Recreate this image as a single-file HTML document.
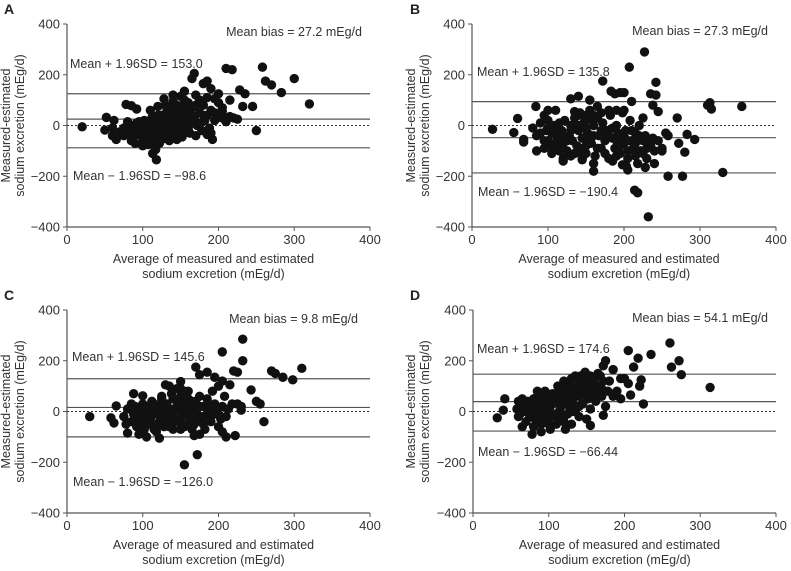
<!DOCTYPE html>
<html><head><meta charset="utf-8">
<style>
body{margin:0;background:#fff;}
svg{display:block;font-family:"Liberation Sans",Arial,sans-serif;}
</style></head>
<body>
<svg id="chart" width="791" height="571" viewBox="0 0 791 571"></svg>
<script>
// ---- data ----
const xTicks = [0,100,200,300,400];
const yTicks = [400,200,0,-200,-400];
const panelLetters = ["A","B","C","D"];
const biasTexts = ["Mean bias = 27.2 mEg/d","Mean bias = 27.3 mEg/d","Mean bias = 9.8 mEg/d","Mean bias = 54.1 mEg/d"];
const upperTexts = ["Mean + 1.96SD = 153.0","Mean + 1.96SD = 135.8","Mean + 1.96SD = 145.6","Mean + 1.96SD = 174.6"];
const lowerTexts = ["Mean − 1.96SD = −98.6","Mean − 1.96SD = −190.4","Mean − 1.96SD = −126.0","Mean − 1.96SD = −66.44"];
const upperLines = [125,94,129,147];
const meanLines = [25,-48,16,39];
const lowerLines = [-88,-187,-100,-77];
const pointsA = [[20,-5],[52,32],[50,-18],[60,-40],[65,-55],[62,20],[78,83],[85,78],[92,65],[100,-75],[110,60],[113,-110],[118,-135],[115,-80],[128,105],[155,135],[165,185],[168,205],[180,165],[185,175],[190,145],[200,125],[205,70],[210,225],[218,220],[215,100],[228,140],[235,125],[245,75],[225,25],[232,75],[250,-20],[258,230],[262,175],[270,160],[283,130],[300,185],[320,85],[192,-55],[185,110],[195,105],[175,95],
[75,-10],[80,-30],[85,0],[88,-45],[90,-20],[92,10],[95,-35],[98,-5],[100,-50],[102,20],[105,-25],[108,0],[110,-60],[112,30],[115,-40],[118,-10],[120,15],[122,-70],[125,40],[128,-20],[130,5],[132,60],[135,-30],[138,25],[140,50],[142,-10],[145,80],[147,10],[150,40],[152,-45],[155,100],[157,60],[160,20],[162,-30],[165,70],[168,30],[170,120],[172,0],[175,50],[178,-20],[180,80],[182,20],[185,40],[188,-10],[190,60],[195,20],[198,30],[200,90],[205,30],[210,15],[215,35],[220,30],[90,-70],[100,-80],[107,-75],[117,-95],[125,-55],[135,-60],[145,-55],[150,115],[160,90],[170,-40],[176,10],[185,-35],[140,95],[130,80],[120,75],[110,-15],[95,15],[85,-60],[150,0],[160,-10],[145,30],[135,10],[125,0],[115,5],[105,-10],[100,5],[75,-40],[70,-25],[140,120],[155,60],[165,40],[175,100],[190,-30],[60,-10],[80,15],
[95,-20],[105,-45],[115,-55],[125,-30],[135,-15],[145,-20],[155,20],[165,10],[160,50],[150,70],[140,70],[130,40],[120,40],[110,10],[100,-30],[90,-5],[82,-15],[170,80],[180,40],[195,50],[205,55],[120,-30],[130,-40],[140,-35],[150,-25],[160,-20],[100,-15],[108,-35],[112,-20],[125,20],[135,40],[145,50],[155,40]];
const pointsB = [[27,-15],[55,-28],[60,28],[68,-55],[68,-65],[84,75],[85,-100],[95,40],[100,60],[110,60],[115,-40],[120,-140],[130,105],[135,55],[140,115],[145,-135],[155,100],[160,-180],[165,75],[172,175],[183,135],[188,125],[195,130],[200,130],[207,230],[203,-160],[205,-175],[210,95],[214,-255],[218,-265],[225,30],[227,290],[228,-165],[232,-360],[235,125],[238,80],[240,-150],[242,170],[242,120],[245,55],[240,-100],[258,-200],[258,-40],[270,30],[272,-70],[277,-200],[280,-105],[283,-35],[293,-55],[310,80],[313,90],[315,65],[330,-185],[355,75],[190,-120],[198,-155],[215,-120],[230,-90],[250,-90],
[80,-10],[85,-40],[90,10],[95,-60],[98,-20],[100,20],[103,-80],[105,-30],[108,0],[110,-90],[112,-50],[115,10],[118,-20],[120,-70],[122,20],[125,-100],[128,-40],[130,0],[132,-60],[135,30],[138,-80],[140,-20],[142,50],[145,-50],[147,10],[150,-110],[150,40],[152,-30],[155,60],[157,-70],[160,0],[162,-120],[165,30],[167,-40],[170,-90],[172,10],[175,-60],[178,-20],[180,-130],[182,40],[185,-50],[188,-90],[190,0],[192,-30],[195,-110],[198,50],[200,-70],[202,-20],[205,-130],[208,20],[210,-60],[212,-90],[215,-30],[218,-150],[220,0],[222,-100],[225,-60],[228,-40],[230,-130],[235,-80],[238,-50],[245,-60],[250,-100],[255,-30],[160,-150],[145,-130],[130,-120],[120,-130],[110,-70],[100,-60],[90,-30],[170,50],[180,60],[190,60],[200,60],[140,-100],[150,-80],[160,-40],[175,-110],[185,-140],[195,-80],[205,-100],
[100,-10],[110,-30],[120,-40],[130,-20],[140,0],[150,-10],[160,20],[170,-20],[180,-40],[190,-60],[200,-40],[210,-20],[220,-40],[230,-60],[115,-100],[125,-60],[135,-110],[145,-90],[155,-60],[165,-90],[175,-30],[185,-10],[195,-40],[205,-60],[215,-70],[225,-110],[150,20],[160,40],[140,40],[105,-110],[95,-90]];
const pointsC = [[30,-20],[58,-25],[62,-45],[65,22],[80,-85],[88,70],[95,-90],[100,62],[105,-100],[122,-105],[130,105],[150,118],[155,-210],[172,-170],[170,175],[175,145],[185,155],[195,135],[205,235],[205,120],[215,105],[220,160],[225,155],[232,200],[232,285],[222,-95],[210,-100],[243,85],[250,40],[255,30],[260,-40],[270,160],[275,150],[285,135],[298,125],[310,170],[168,-95],[175,-90],[200,-60],[205,-80],[230,5],
[75,-20],[80,10],[85,-40],[88,-10],[90,20],[92,-60],[95,0],[98,-30],[100,30],[102,-70],[105,-20],[108,10],[110,-50],[112,40],[115,-10],[118,-80],[120,20],[122,-40],[125,50],[128,-60],[130,0],[132,30],[135,-30],[138,70],[140,-70],[142,10],[145,40],[147,-40],[150,60],[152,-10],[155,-60],[157,20],[160,80],[162,-30],[165,10],[168,-50],[170,40],[172,-10],[175,60],[178,-40],[180,20],[182,-70],[185,50],[188,0],[190,-40],[192,80],[195,30],[198,-10],[200,100],[203,-30],[205,20],[208,60],[210,-20],[213,10],[218,30],[225,30],[230,20],[100,-10],[110,0],[120,-10],[130,-20],[140,-10],[150,10],[160,-10],[170,0],[180,-20],[145,90],[155,80],[135,100],[125,60],[85,30],[78,-50],
[90,-30],[100,-40],[110,-30],[120,-50],[130,-40],[140,-40],[150,-30],[160,-50],[170,-30],[180,-50],[190,-20],[200,-10],[95,10],[105,20],[115,30],[125,20],[135,10],[145,20],[155,30],[165,40],[175,20],[185,10],[195,0],[115,-70],[135,-60],[150,-70],[165,-70],[185,30],[140,50],[150,90],[160,50]];
const pointsD = [[32,-25],[40,5],[42,50],[65,-60],[78,-90],[90,-80],[102,-70],[110,-50],[122,-70],[130,-50],[155,-55],[172,-15],[148,155],[175,200],[172,180],[185,165],[205,240],[208,65],[212,175],[218,210],[220,100],[222,125],[225,30],[235,225],[260,270],[262,175],[272,200],[275,145],[313,95],[195,130],[200,130],[205,110],
[58,10],[60,40],[62,-10],[65,20],[68,30],[70,0],[72,40],[75,-20],[78,10],[80,50],[82,-30],[85,20],[88,60],[90,-10],[92,30],[95,0],[98,50],[100,-30],[102,20],[105,70],[108,-10],[110,40],[112,100],[115,10],[118,60],[120,-20],[122,30],[125,80],[128,10],[130,130],[132,50],[135,20],[138,100],[140,60],[142,140],[145,30],[148,90],[150,120],[152,50],[155,10],[158,80],[160,130],[162,40],[165,100],[168,140],[170,60],[172,120],[175,20],[178,80],[180,120],[185,60],[190,80],[195,50],[70,-40],[80,-60],[90,-50],[100,-50],[110,-20],[120,-40],[130,0],[140,-20],[150,-30],[60,-20],[65,50],[85,80],[95,80],[105,30],[115,90],[125,110],[135,140],[145,100],[155,140],[165,150],[115,40],[125,50],[135,60],[145,70],
[70,20],[75,30],[85,0],[90,40],[95,20],[100,10],[105,50],[110,70],[115,60],[120,80],[125,30],[130,70],[135,90],[140,110],[145,130],[150,90],[155,100],[160,110],[165,70],[170,90],[80,30],[85,-20],[95,-30],[105,-10],[115,-20],[125,-10],[135,0],[140,20],[65,0],[75,0],[130,100],[120,120],[150,60],[160,60]];
const allPoints = [pointsA, pointsB, pointsC, pointsD];

// ---- layout (pixels) ----
const frames = [
  {x0:67, x1:370, yT:24, yB:227, lx:4, ly:14, biasX:362, biasY:36, upX:70, upY:68, loX:73, loY:180, ytX:10},
  {x0:472, x1:776, yT:24, yB:227, lx:410, ly:14, biasX:768, biasY:35, upX:477, upY:76, loX:478, loY:196, ytX:415},
  {x0:67, x1:370, yT:310, yB:513, lx:4, ly:300, biasX:358, biasY:323, upX:72, upY:361, loX:73, loY:486, ytX:10},
  {x0:473, x1:776, yT:310, yB:513, lx:410, ly:300, biasX:768, biasY:322, upX:477, upY:353, loX:478, loY:456, ytX:415}
];
const NS = "http://www.w3.org/2000/svg";
const svg = document.getElementById("chart");
function mk(tag, attrs, parent, text){
  const e = document.createElementNS(NS, tag);
  for (const k in attrs) e.setAttribute(k, attrs[k]);
  if (text !== undefined) e.textContent = text;
  parent.appendChild(e);
  return e;
}
frames.forEach((f, i) => {
  const g = mk("g", {}, svg);
  
  
  const xS = v => f.x0 + (v / 400) * (f.x1 - f.x0);
  const yS = v => f.yT + ((400 - v) / 800) * (f.yB - f.yT);
  const lt = mk("text", {x:f.lx, y:f.ly, "font-size":14, "font-weight":"bold", fill:"#222"}, g, panelLetters[i]);
  
  
  const ax = mk("path", {d:`M${f.x0},${f.yT}V${f.yB}H${f.x1}`, stroke:"#555", "stroke-width":1.2, fill:"none"}, g);
  
  
  yTicks.forEach(t => {
    mk("line", {x1:f.x0-4, x2:f.x0, y1:yS(t), y2:yS(t), stroke:"#555"}, g);
    const tl = mk("text", {x:f.x0-7, y:yS(t)+4.5, "font-size":13, "text-anchor":"end", fill:"#333"}, g, t < 0 ? "−" + (-t) : String(t));
    
    
  });
  xTicks.forEach(t => {
    mk("line", {x1:xS(t), x2:xS(t), y1:f.yB, y2:f.yB+4, stroke:"#555"}, g);
    const tl = mk("text", {x:xS(t), y:f.yB+17, "font-size":13, "text-anchor":"middle", fill:"#333"}, g, String(t));
    
    
  });
  const cx = (f.x0 + f.x1) / 2 - 5;
  const xt = mk("text", {x:cx, y:f.yB+36, "font-size":12.5, "text-anchor":"middle", fill:"#333"}, g);
  
  
  mk("tspan", {x:cx, dy:0}, xt, "Average of measured and estimated");
  mk("tspan", {x:cx, dy:15}, xt, "sodium excretion (mEg/d)");
  const cy = (f.yT + f.yB) / 2;
  const yt = mk("text", {transform:`translate(${f.ytX},${cy}) rotate(-90)`, "font-size":12.5, "text-anchor":"middle", fill:"#333"}, g);
  
  
  mk("tspan", {x:0, y:0}, yt, "Measured-estimated");
  mk("tspan", {x:0, y:14}, yt, "sodium excretion (mEg/d)");
  const z = mk("line", {x1:f.x0, x2:f.x1, y1:yS(0), y2:yS(0), stroke:"#333", "stroke-dasharray":"2,2"}, g);
  
  
  [[upperLines[i],'upper-limit-line'],[meanLines[i],'mean-bias-line'],[lowerLines[i],'lower-limit-line']].forEach(([v,n]) => {
    const l = mk("line", {x1:f.x0, x2:f.x1, y1:yS(v), y2:yS(v), stroke:"#555", "stroke-width":1.2}, g);
    
    
  });
  allPoints[i].forEach(p => {
    const c = mk("circle", {cx:xS(p[0]), cy:yS(p[1]), r:4.7, fill:"#111"}, g);
    
    
  });
  const b = mk("text", {x:f.biasX, y:f.biasY, "font-size":12.5, "text-anchor":"end", fill:"#333"}, g, biasTexts[i]);
  
  
  const u = mk("text", {x:f.upX, y:f.upY, "font-size":12.5, fill:"#333"}, g, upperTexts[i]);
  
  
  const lo = mk("text", {x:f.loX, y:f.loY, "font-size":12.5, fill:"#333"}, g, lowerTexts[i]);
  
  
});
</script>
</body></html>
